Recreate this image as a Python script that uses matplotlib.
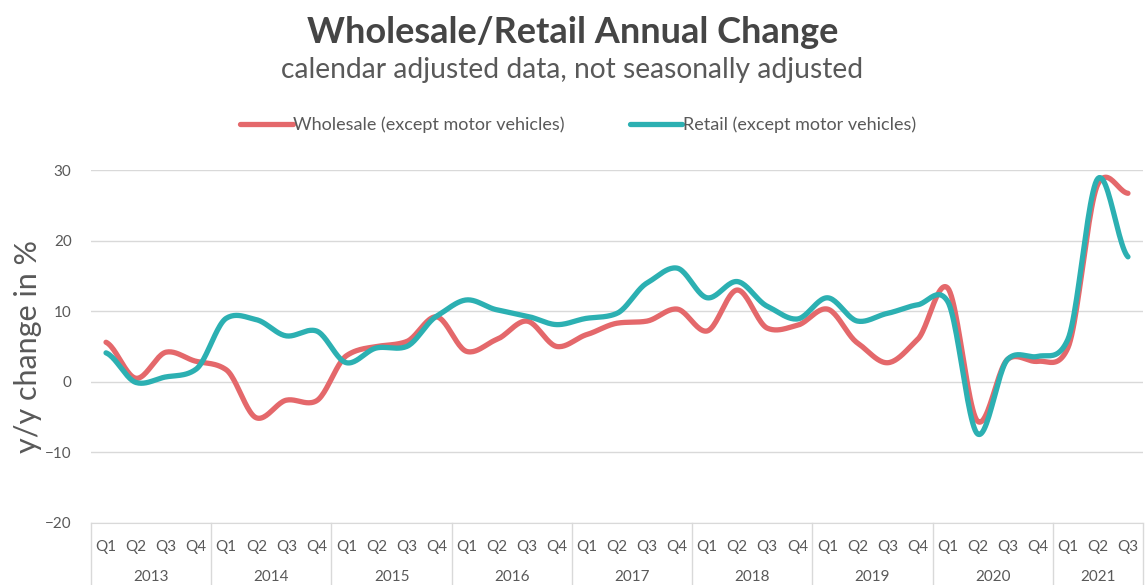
import numpy as np
import matplotlib
matplotlib.use("Agg")
import matplotlib.pyplot as plt
import matplotlib.transforms as mtransforms

plt.rcParams["font.family"] = ["Lato", "DejaVu Sans"]

years = ["2013", "2014", "2015", "2016", "2017", "2018", "2019", "2020", "2021"]
quarters = ["Q1", "Q2", "Q3", "Q4"]
n_quarters_last = 3

wholesale = [5.6, 0.5, 4.2, 2.9, 1.7, -5.1, -2.6, -2.7, 3.7, 5.0, 5.7, 9.2,
             4.3, 6.0, 8.6, 5.0, 6.7, 8.3, 8.6, 10.3, 7.2, 13.0, 7.6, 8.0,
             10.3, 5.5, 2.7, 6.0, 13.3, -5.6, 3.2, 2.9, 4.8, 28.0, 26.7]
retail = [4.1, -0.1, 0.7, 1.8, 9.0, 8.8, 6.5, 7.2, 2.7, 4.8, 5.0, 9.3,
          11.6, 10.2, 9.3, 8.1, 9.0, 9.7, 14.0, 16.1, 11.9, 14.2, 10.7, 8.9,
          11.9, 8.6, 9.7, 10.9, 11.4, -7.4, 3.2, 3.6, 6.0, 28.8, 17.7]

RED = "#E4686B"
TEAL = "#2CB0B2"
GRID = "#D9D9D9"
TEXT = "#595959"


def smooth(y, steps=24, tension=0.75):
    # Cardinal spline through every data point
    y = np.asarray(y, dtype=float)
    pad = np.concatenate([[y[0]], y, [y[-1]]])
    xs, ys = [], []
    t = np.linspace(0, 1, steps, endpoint=False)
    h00 = 2 * t ** 3 - 3 * t ** 2 + 1
    h10 = t ** 3 - 2 * t ** 2 + t
    h01 = -2 * t ** 3 + 3 * t ** 2
    h11 = t ** 3 - t ** 2
    for i in range(len(y) - 1):
        p0, p1, p2, p3 = pad[i], pad[i + 1], pad[i + 2], pad[i + 3]
        m1 = tension * (p2 - p0) / 2
        m2 = tension * (p3 - p1) / 2
        xs.append(i + t)
        ys.append(h00 * p1 + h10 * m1 + h01 * p2 + h11 * m2)
    xs.append([len(y) - 1])
    ys.append([y[-1]])
    return np.concatenate(xs), np.concatenate(ys)


fig = plt.figure(figsize=(11.45, 5.85), dpi=100)
ax = fig.add_axes([91 / 1145, 1 - 523 / 585, 1052 / 1145, 353 / 585])

x1, y1 = smooth(wholesale)
x2, y2 = smooth(retail)
ax.plot(x1, y1, color=RED, lw=3.8, solid_capstyle="round",
        label="Wholesale (except motor vehicles)")
ax.plot(x2, y2, color=TEAL, lw=3.8, solid_capstyle="round",
        label="Retail (except motor vehicles)")

ax.set_xlim(-0.5, len(wholesale) - 0.5)
ax.set_ylim(-20, 30)
ax.set_yticks(np.arange(-20, 31, 10))
ax.yaxis.grid(True, color=GRID, lw=1)
ax.set_axisbelow(True)
for s in ["top", "right", "left"]:
    ax.spines[s].set_visible(False)
ax.spines["bottom"].set_color(GRID)
ax.tick_params(axis="y", length=0, pad=14, labelsize=11, labelcolor=TEXT)
ax.tick_params(axis="x", length=0, labelbottom=False)
ax.set_ylabel("y/y change in %", fontsize=22, color=TEXT, labelpad=2)

# quarter / year category table under the axis
trans = mtransforms.blended_transform_factory(ax.transData, ax.transAxes)
idx = 0
edges = [-0.5]
for k, yr in enumerate(years):
    nq = n_quarters_last if k == len(years) - 1 else 4
    for q in quarters[:nq]:
        ax.text(idx, -0.068, q, transform=trans, ha="center", va="center",
                fontsize=11, color=TEXT)
        idx += 1
    ax.text(idx - nq / 2 - 0.5, -0.153, yr, transform=trans, ha="center",
            va="center", fontsize=11, color=TEXT)
    edges.append(idx - 0.5)
for e in edges:
    ax.plot([e, e], [0, -0.2], transform=trans, color=GRID, lw=1, clip_on=False)

fig.text(0.5, 0.945, "Wholesale/Retail Annual Change", ha="center", va="center",
         fontsize=26, fontweight="bold", color="#454545")
fig.text(0.5, 0.88, "calendar adjusted data, not seasonally adjusted", ha="center",
         va="center", fontsize=20.3, color=TEXT)

fig.legend(loc="center", bbox_to_anchor=(0.505, 0.787), ncol=2, frameon=False,
           fontsize=13, labelcolor=TEXT, handlelength=2.9, handletextpad=0.05,
           columnspacing=3.6)

fig.savefig("out.png", dpi=100)
